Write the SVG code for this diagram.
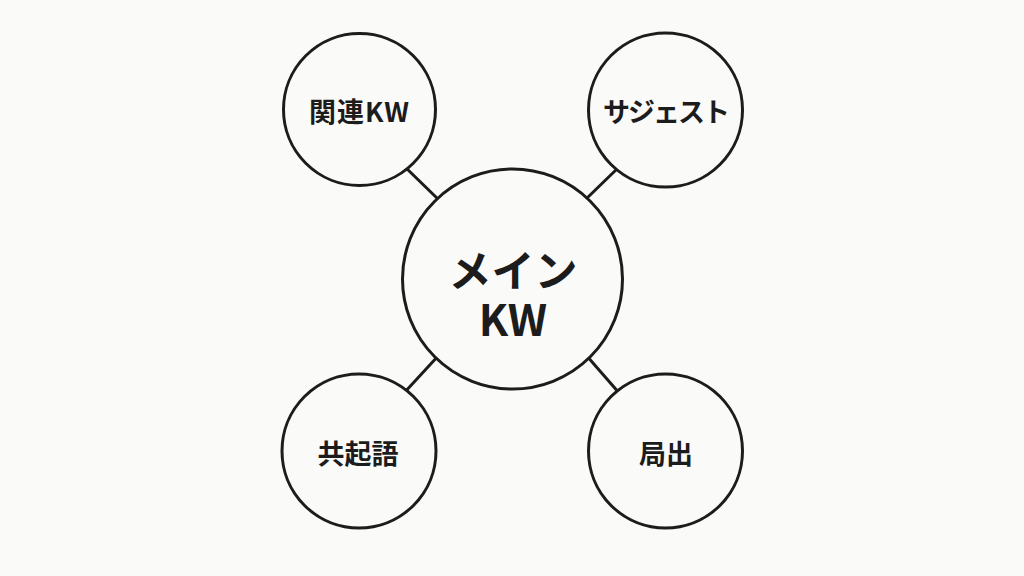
<svg xmlns="http://www.w3.org/2000/svg" width="1024" height="576" viewBox="0 0 1024 576">
  <style>
    .node { fill: #fafaf9; stroke: #1c1c1c; stroke-width: 3; }
    .edge { stroke: #1c1c1c; stroke-width: 3; stroke-linecap: butt; }
    .lbl { font-family: "Noto Sans CJK JP", "Noto Sans", sans-serif; font-weight: 700; fill: #1c1c1c; text-anchor: middle; dominant-baseline: central; }
    .small { font-size: 27px; }
    .big { font-size: 43px; }
  </style>
  <rect width="1024" height="576" fill="#fafaf9"/>
  <g id="connectors">
    <line class="edge" x1="440" y1="201" x2="404" y2="166"/>
    <line class="edge" x1="585" y1="200" x2="619" y2="167"/>
    <line class="edge" x1="439" y1="355" x2="404" y2="393"/>
    <line class="edge" x1="586" y1="355" x2="620" y2="394"/>
  </g>
  <g id="node-related">
    <circle class="node" cx="359.5" cy="109.5" r="76"/>
    <text class="lbl small" x="359.5" y="110" letter-spacing="1">関連KW</text>
  </g>
  <g id="node-suggest">
    <circle class="node" cx="665.5" cy="110" r="77"/>
    <text class="lbl small" x="665.5" y="110" letter-spacing="-2">サジェスト</text>
  </g>
  <g id="node-cooccur">
    <circle class="node" cx="359" cy="451" r="77"/>
    <text class="lbl small" x="358" y="452">共起語</text>
  </g>
  <g id="node-local">
    <circle class="node" cx="665.5" cy="451" r="77"/>
    <text class="lbl small" x="666" y="452">局出</text>
  </g>
  <g id="node-main">
    <circle class="node" cx="512.5" cy="279" r="110"/>
    <text class="lbl big"><tspan x="513" y="268">メイン</tspan><tspan x="513" y="317">KW</tspan></text>
  </g>
</svg>
